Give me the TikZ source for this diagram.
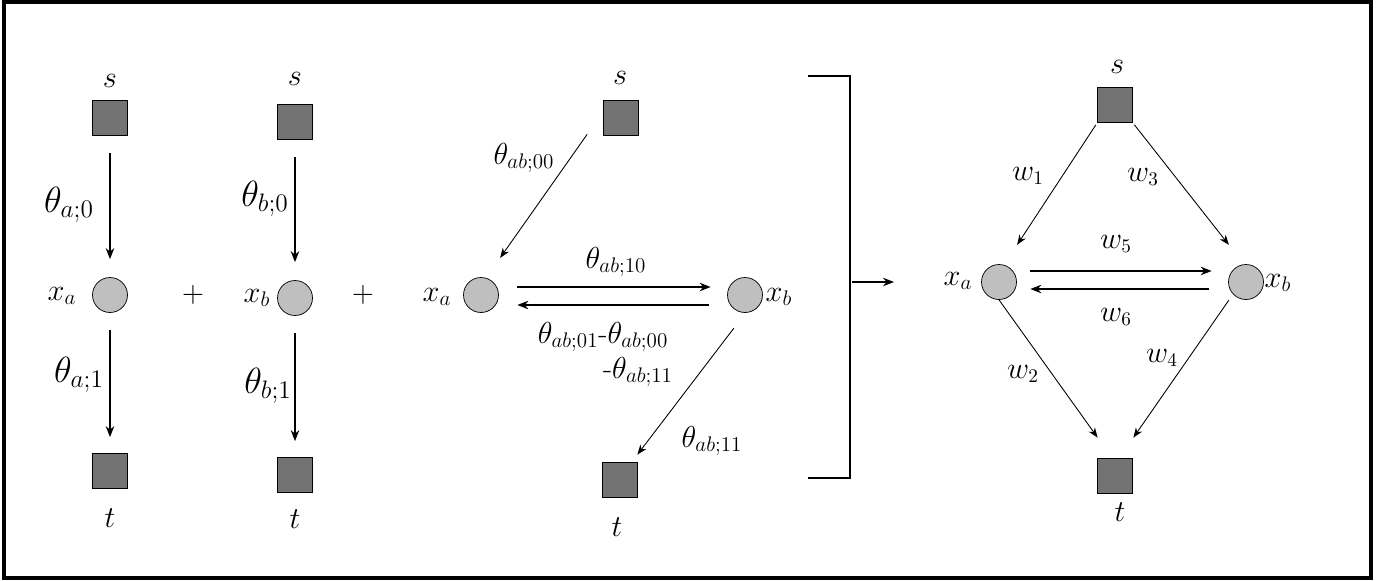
\documentclass[tikz,border=0pt]{standalone}
\usepackage{amsmath}
\usetikzlibrary{arrows.meta,calc}

\begin{document}
\begin{tikzpicture}[
  term/.style={draw,fill=black!55,minimum size=7mm,inner sep=0pt},
  var/.style={circle,draw,fill=black!25,minimum size=7mm,inner sep=0pt},
  ar/.style={-{Stealth[length=2.2mm,width=1.7mm]},line width=0.8pt},
  dar/.style={-{Stealth[length=2mm,width=1.5mm]},line width=0.5pt},
  nm/.style={font=\fontsize{18}{22}\selectfont,inner sep=1pt},
  big/.style={font=\fontsize{20}{24}\selectfont,inner sep=1pt},
  mid/.style={font=\fontsize{17}{20}\selectfont,inner sep=1pt},
  sml/.style={font=\fontsize{16}{19}\selectfont,inner sep=1pt},
  plus/.style={font=\fontsize{16}{19}\selectfont,inner sep=1pt}
]
\useasboundingbox (0,0) rectangle (27.76,-11.6);
\draw[line width=2.2pt] (0.08,-0.04) rectangle (27.42,-11.56);
\node[term] (sA)  at (2.2,-2.36)  {};
\node[var]  (xaA) at (2.2,-5.9)   {};
\node[term] (tA)  at (2.2,-9.42)  {};
\node[nm] (sAl)  at (2.2,-1.62)  {$s$};
\node[nm] (tAl)  at (2.2,-10.36) {$t$};
\node[nm] (xaAl) at (1.24,-5.92) {$x_a$};
\node[big] (thA0) at (1.38,-4.1) {$\theta_{a;0}$};
\node[big] (thA1) at (1.58,-7.5) {$\theta_{a;1}$};
\draw[ar,shorten <=0.34cm,shorten >=0.36cm] (sA) -- (xaA);
\draw[ar,shorten <=0.35cm,shorten >=0.32cm] (xaA) -- (tA);
\node[plus] (plA) at (3.86,-5.9) {$+$};
\node[term] (sB)  at (5.9,-2.44)  {};
\node[var]  (xbB) at (5.9,-5.96)  {};
\node[term] (tB)  at (5.9,-9.5)   {};
\node[nm] (sBl)  at (5.9,-1.58)  {$s$};
\node[nm] (tBl)  at (5.9,-10.38) {$t$};
\node[nm] (xbBl) at (5.14,-5.96) {$x_b$};
\node[big] (thB0) at (5.3,-3.98) {$\theta_{b;0}$};
\node[big] (thB1) at (5.36,-7.72) {$\theta_{b;1}$};
\draw[ar,shorten <=0.34cm,shorten >=0.36cm] (sB) -- (xbB);
\draw[ar,shorten <=0.35cm,shorten >=0.32cm] (xbB) -- (tB);
\node[plus] (plB) at (7.26,-5.9) {$+$};
\node[term] (sC)  at (12.42,-2.36) {};
\node[var]  (xaC) at (9.62,-5.9)   {};
\node[var]  (xbC) at (14.9,-5.9)   {};
\node[term] (tC)  at (12.4,-9.6)   {};
\node[nm] (sCl)  at (12.4,-1.56)  {$s$};
\node[nm] (tCl)  at (12.34,-10.54) {$t$};
\node[nm] (xaCl) at (8.74,-5.94)  {$x_a$};
\node[nm] (xbCl) at (15.58,-5.94) {$x_b$};
\node[mid] (thC00) at (10.48,-3.16) {$\theta_{ab;00}$};
\node[mid] (thC10) at (12.32,-5.24) {$\theta_{ab;10}$};
\node[mid] (thC01) at (12.06,-6.74) {$\theta_{ab;01}\text{-}\theta_{ab;00}$};
\node[mid] (thC11) at (12.76,-7.44) {$\text{-}\theta_{ab;11}$};
\node[mid] (thCt)  at (14.24,-8.82) {$\theta_{ab;11}$};
\draw[dar] ($(sC.south west)+(-0.32,0.03)$) -- ($(xaC.north east)+(0.13,0.49)$);
\draw[ar,shorten <=0.37cm,shorten >=0.33cm] ([yshift=0.16cm]xaC.east) -- ([yshift=0.16cm]xbC.west);
\draw[ar,shorten <=0.37cm,shorten >=0.37cm] ([yshift=-0.2cm]xbC.west) -- ([yshift=-0.2cm]xaC.east);
\draw[dar] ($(xbC.south west)+(0.03,-0.41)$) -- ($(tC.north east)+(-0.01,0.15)$);
\draw[line width=0.6pt] (16.16,-1.52) -| (17,-9.56) -- (16.16,-9.56);
\coordinate (mapS) at (17.04,-5.64);
\coordinate (mapE) at (17.88,-5.64);
\draw[ar] (mapS) -- (mapE);
\node[term] (sD)  at (22.3,-2.1)   {};
\node[var]  (xaD) at (19.98,-5.64) {};
\node[var]  (xbD) at (24.92,-5.64) {};
\node[term] (tD)  at (22.3,-9.52)  {};
\node[nm] (sDl)  at (22.34,-1.34)  {$s$};
\node[nm] (tDl)  at (22.4,-10.24)  {$t$};
\node[nm] (xaDl) at (19.16,-5.62) {$x_a$};
\node[nm] (xbDl) at (25.56,-5.66) {$x_b$};
\node[sml] (w1) at (20.56,-3.52) {$w_1$};
\node[sml] (w3) at (22.86,-3.54) {$w_3$};
\node[sml] (w5) at (22.32,-4.88) {$w_5$};
\node[sml] (w6) at (22.32,-6.34) {$w_6$};
\node[sml] (w2) at (20.46,-7.48) {$w_2$};
\node[sml] (w4) at (23.24,-7.16) {$w_4$};
\draw[dar,shorten <=0.05cm] (sD.south west) -- ($(xaD.north east)+(0.11,0.49)$);
\draw[dar,shorten <=0.05cm] (sD.south east) -- ($(xbD.north west)+(-0.09,0.49)$);
\draw[dar] (xaD.south) -- ($(tD.north west)+(0.01,0.41)$);
\draw[dar] ($(xbD.south west)+(-0.09,-0.11)$) -- ($(tD.north east)+(0.01,0.41)$);
\draw[ar,shorten <=0.27cm,shorten >=0.33cm] ([yshift=0.22cm]xaD.east) -- ([yshift=0.22cm]xbD.west);
\draw[ar,shorten <=0.39cm,shorten >=0.27cm] ([yshift=-0.14cm]xbD.west) -- ([yshift=-0.14cm]xaD.east);
\end{tikzpicture}
\end{document}
